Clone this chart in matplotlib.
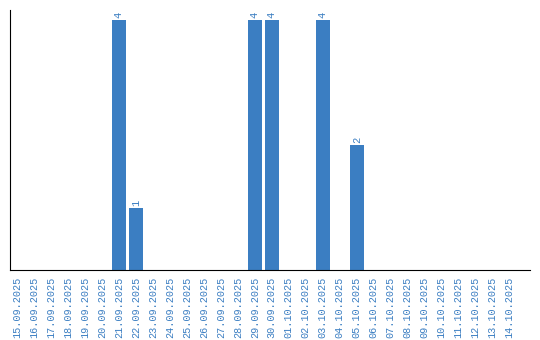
import matplotlib
matplotlib.use("Agg")
import matplotlib.pyplot as plt

dates = ['15.09.2025', '16.09.2025', '17.09.2025', '18.09.2025', '19.09.2025',
         '20.09.2025', '21.09.2025', '22.09.2025', '23.09.2025', '24.09.2025',
         '25.09.2025', '26.09.2025', '27.09.2025', '28.09.2025', '29.09.2025',
         '30.09.2025', '01.10.2025', '02.10.2025', '03.10.2025', '04.10.2025',
         '05.10.2025', '06.10.2025', '07.10.2025', '08.10.2025', '09.10.2025',
         '10.10.2025', '11.10.2025', '12.10.2025', '13.10.2025', '14.10.2025']
counts = [0, 0, 0, 0, 0, 0, 4, 1, 0, 0, 0, 0, 0, 0, 4,
          4, 0, 0, 4, 0, 2, 0, 0, 0, 0, 0, 0, 0, 0, 0]

blue = '#3b7ec2'
fig = plt.figure(figsize=(5.4, 3.4), dpi=100)
ax = fig.add_axes([10/540, 70/340, 520/540, 260/340])

x = list(range(len(dates)))
ax.bar(x, counts, width=0.82, color=blue)
for i, c in enumerate(counts):
    if c > 0:
        ax.text(i, c + 0.03, str(c), rotation=90, ha='center', va='bottom',
                color=blue, fontsize=7.5, family='Liberation Mono')

ax.set_xlim(-0.41, 30.2)
ax.set_ylim(0, 4.16)
ax.set_xticks(x)
ax.set_xticklabels(dates, rotation=90, color=blue, fontsize=7.3, family='Liberation Mono')
ax.tick_params(axis='x', length=0, pad=5)
ax.set_yticks([])
ax.spines['top'].set_visible(False)
ax.spines['right'].set_visible(False)

fig.savefig('out.png', dpi=100)
